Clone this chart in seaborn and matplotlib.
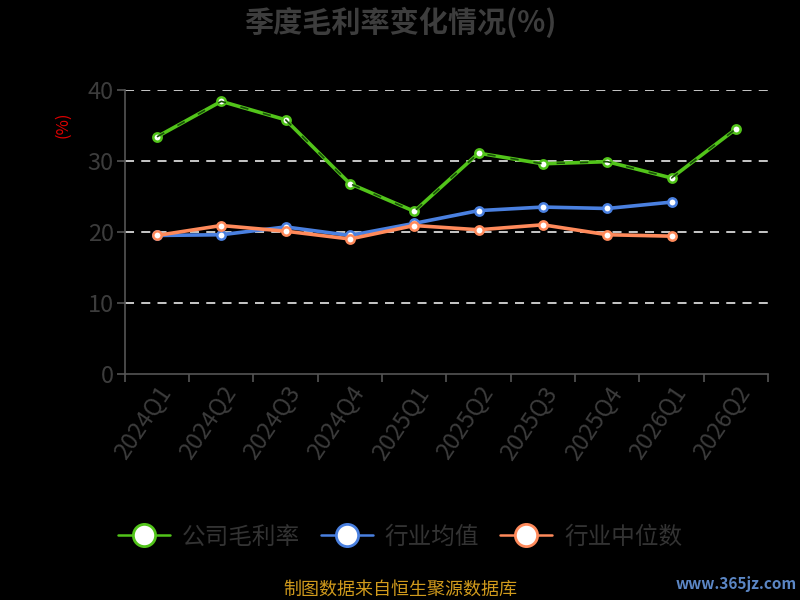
import seaborn as sns
import matplotlib.pyplot as plt
from matplotlib.lines import Line2D
import pandas as pd
import numpy as np

# quarters on the x axis
quarters = ['2024Q1', '2024Q2', '2024Q3', '2024Q4', '2025Q1',
            '2025Q2', '2025Q3', '2025Q4', '2026Q1', '2026Q2']

# gross margin values (%)
company = [33.4, 38.4, 35.8, 26.8, 22.9, 31.1, 29.6, 29.9, 27.6, 34.5]
ind_mean = [19.5, 19.6, 20.7, 19.5, 21.2, 23.0, 23.5, 23.3, 24.2, np.nan]
ind_median = [19.5, 20.9, 20.1, 19.0, 20.9, 20.3, 21.0, 19.6, 19.4, np.nan]

series_names = ['公司毛利率', '行业均值', '行业中位数']
colors = ['#52c41a', '#4a80e0', '#ff8a5b']

sns.set_theme(style='dark')
plt.rcParams['font.family'] = ['Noto Sans CJK SC', 'DejaVu Sans']
plt.rcParams['axes.unicode_minus'] = False

df = pd.DataFrame({'pos': range(len(quarters)), 'quarter': quarters,
                   series_names[0]: company,
                   series_names[1]: ind_mean,
                   series_names[2]: ind_median})

fig = plt.figure(figsize=(8, 6), dpi=100, facecolor='black')
ax = fig.add_axes([0.156, 0.377, 0.804, 0.473])
ax.set_facecolor('black')

for name, col in zip(series_names, colors):
    sub = df.dropna(subset=[name])
    sns.lineplot(data=sub, x='pos', y=name, ax=ax, color=col, linewidth=2.6,
                 marker='o', markersize=6, markerfacecolor='white',
                 markeredgecolor=col, markeredgewidth=1.8, zorder=3)

# the dark dashed overlay seen on the company line
ax.plot(df['pos'], df[series_names[0]], color='#1a4f0a', linewidth=1.2,
        dashes=(5, 9), zorder=4)

ax.set_xlim(-0.5, len(quarters) - 0.5)
ax.set_ylim(0, 40)
ax.set_yticks([0, 10, 20, 30, 40])
ax.set_xticks(range(len(quarters)))
ax.set_xticklabels(quarters, rotation=56, ha='right', rotation_mode='anchor')
ax.set_xticks(np.arange(-0.5, len(quarters)), minor=True)
ax.tick_params(axis='x', which='major', length=0, pad=6, labelsize=17, labelcolor='#3c3c3c')
ax.tick_params(axis='x', which='minor', length=6, width=1.2, color='#555555', bottom=True)
ax.tick_params(axis='y', length=6, width=1.2, color='#555555', labelsize=17,
               labelcolor='#3c3c3c', left=True, pad=2)

ax.grid(False)
for v in [10, 20, 30, 40]:
    ax.axhline(v, color='#d8d8d8', linewidth=1.3, dashes=(5, 4), zorder=1)

for side in ['top', 'right']:
    ax.spines[side].set_visible(False)
for side in ['left', 'bottom']:
    ax.spines[side].set_color('#555555')
    ax.spines[side].set_linewidth(1.2)
ax.set_xlabel('')
ax.set_ylabel('')

fig.text(0.079, 0.792, '(%)', color='#e00000', fontsize=12, rotation=90,
         ha='center', va='center')

fig.text(0.5, 0.962, '季度毛利率变化情况(%)', color='#3d3d3d', fontsize=21,
         fontweight='bold', ha='center', va='center')

handles = [Line2D([0], [0], color=col, linewidth=1.8, marker='o', markersize=16,
                  markerfacecolor='white', markeredgecolor=col, markeredgewidth=2)
           for col in colors]
leg = fig.legend(handles, series_names, loc='center', bbox_to_anchor=(0.5, 0.105),
                 ncol=3, frameon=False, fontsize=17, handlelength=2.2,
                 columnspacing=0.9, handletextpad=0.5)
for t in leg.get_texts():
    t.set_color('#333333')

fig.text(0.5, 0.018, '制图数据来自恒生聚源数据库', color='#d09a1c', fontsize=13,
         ha='center', va='center')
fig.text(0.92, 0.027, 'www.365jz.com', color='#5b86c4', fontsize=11,
         fontweight='bold', ha='center', va='center')

fig.savefig('out.png', dpi=100, facecolor='black')
